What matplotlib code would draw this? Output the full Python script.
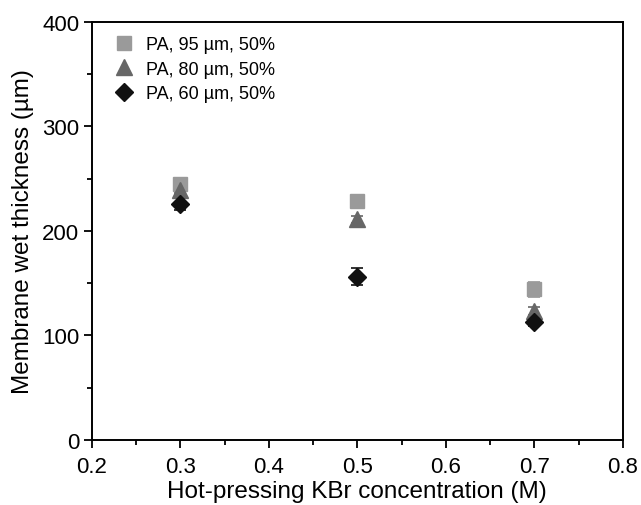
import matplotlib
matplotlib.use("Agg")
import matplotlib.pyplot as plt
from matplotlib.ticker import MultipleLocator

plt.rcParams['font.family'] = ['Liberation Sans', 'DejaVu Sans']

conc = [0.3, 0.5, 0.7]
labels = ["PA, 95 µm, 50%", "PA, 80 µm, 50%", "PA, 60 µm, 50%"]
pa95 = [245, 229, 144]
pa95_err = [3, 3, 7]
pa80 = [239, 211, 123]
pa80_err = [3, 3, 4]
pa60 = [226, 156, 113]
pa60_err = [6, 8, 4]

fig = plt.figure(figsize=(6.41, 5.06), dpi=100)
ax = fig.add_axes([0.1435, 0.129, 0.828, 0.8255])

styles = [("s", "#9a9a9a", 9.5), ("^", "#676767", 11), ("D", "#111111", 9)]
for vals, errs, lab, (m, c, ms) in zip([pa95, pa80, pa60], [pa95_err, pa80_err, pa60_err], labels, styles):
    ax.errorbar(conc, vals, yerr=errs, fmt=m, color=c, ecolor=c, ms=ms,
                capsize=4, elinewidth=1.2, capthick=1.2, label=lab, linestyle='none')

ax.set_xlim(0.2, 0.8)
ax.set_ylim(0, 400)
ax.xaxis.set_major_locator(MultipleLocator(0.1))
ax.xaxis.set_minor_locator(MultipleLocator(0.05))
ax.yaxis.set_major_locator(MultipleLocator(100))
ax.yaxis.set_minor_locator(MultipleLocator(50))
ax.tick_params(which='major', direction='out', length=6, width=1.3, labelsize=16, pad=3)
ax.tick_params(axis='x', which='major', pad=6)
ax.tick_params(which='minor', direction='out', length=3.5, width=1.3)
for s in ax.spines.values():
    s.set_linewidth(1.4)

ax.set_xlabel("Hot-pressing KBr concentration (M)", fontsize=17.5, labelpad=2)
ax.set_ylabel("Membrane wet thickness (µm)", fontsize=17.5, labelpad=6)

handles, labs = ax.get_legend_handles_labels()
handles = [h[0] for h in handles]
leg = ax.legend(handles, labs, loc='upper left', frameon=False, fontsize=13,
                handletextpad=0.2, labelspacing=0.4, borderaxespad=0.4,
                bbox_to_anchor=(0.0, 1.0))

fig.savefig("out.png", dpi=100)
